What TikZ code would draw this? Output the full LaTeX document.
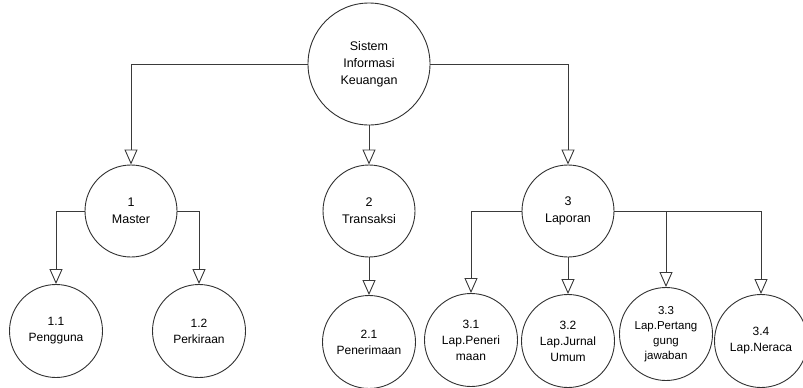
\documentclass[tikz,border=0pt]{standalone}
\usepackage{fontspec}
\setmainfont{Liberation Sans}
\usetikzlibrary{arrows.meta}
\definecolor{ln}{HTML}{3A3A3A}
\tikzset{
  proc/.style={circle, draw=ln!85!black, line width=0.9pt, fill=white, inner sep=0pt, align=center, font=\fontsize{12.5}{17}\selectfont},
  big/.style={proc, minimum size=122pt},
  mid/.style={proc, minimum size=92pt},
  small/.style={proc, minimum size=93pt, font=\fontsize{12}{16}\selectfont},
  flow/.style={draw=ln, line width=0.9pt, -{Triangle[open, length=15pt, width=13pt, line width=0.9pt]}}
}
\begin{document}
\begin{tikzpicture}[x=1pt,y=-1pt]
\useasboundingbox (0,0) rectangle (803,388);
\node[big] (top) at (369,64) {Sistem\\Informasi\\Keuangan};
\node[mid] (m) at (131,211) {1\\Master};
\node[mid] (t) at (369,211) {2\\Transaksi};
\node[mid] (l) at (568,211) {3\\Laporan};
\node[small] (c11) at (56,331) {1.1\\Pengguna};
\node[small] (c12) at (199,331) {1.2\\Perkiraan};
\node[small] (c21) at (369,342) {2.1\\Penerimaan};
\node[small] (c31) at (471,340) {3.1\\Lap.Peneri\\maan};
\node[small] (c32) at (568,341) {3.2\\Lap.Jurnal\\Umum};
\node[small, font=\fontsize{11.5}{15}\selectfont] (c33) at (666,334) {3.3\\Lap.Pertang\\gung\\jawaban};
\node[small] (c34) at (761,341) {3.4\\Lap.Neraca};
\draw[flow] (top.west) -| (m.north);
\draw[flow] (top.south) -- (t.north);
\draw[flow] (top.east) -| (l.north);
\draw[flow] (m.west) -| (c11.north);
\draw[flow] (m.east) -| (c12.north);
\draw[flow] (t.south) -- (c21.north);
\draw[flow] (l.west) -| (c31.north);
\draw[flow] (l.south) -- (c32.north);
\draw[flow] (l.east) -| (c33.north);
\draw[flow] (l.east) -| (c34.north);
\end{tikzpicture}
\end{document}
